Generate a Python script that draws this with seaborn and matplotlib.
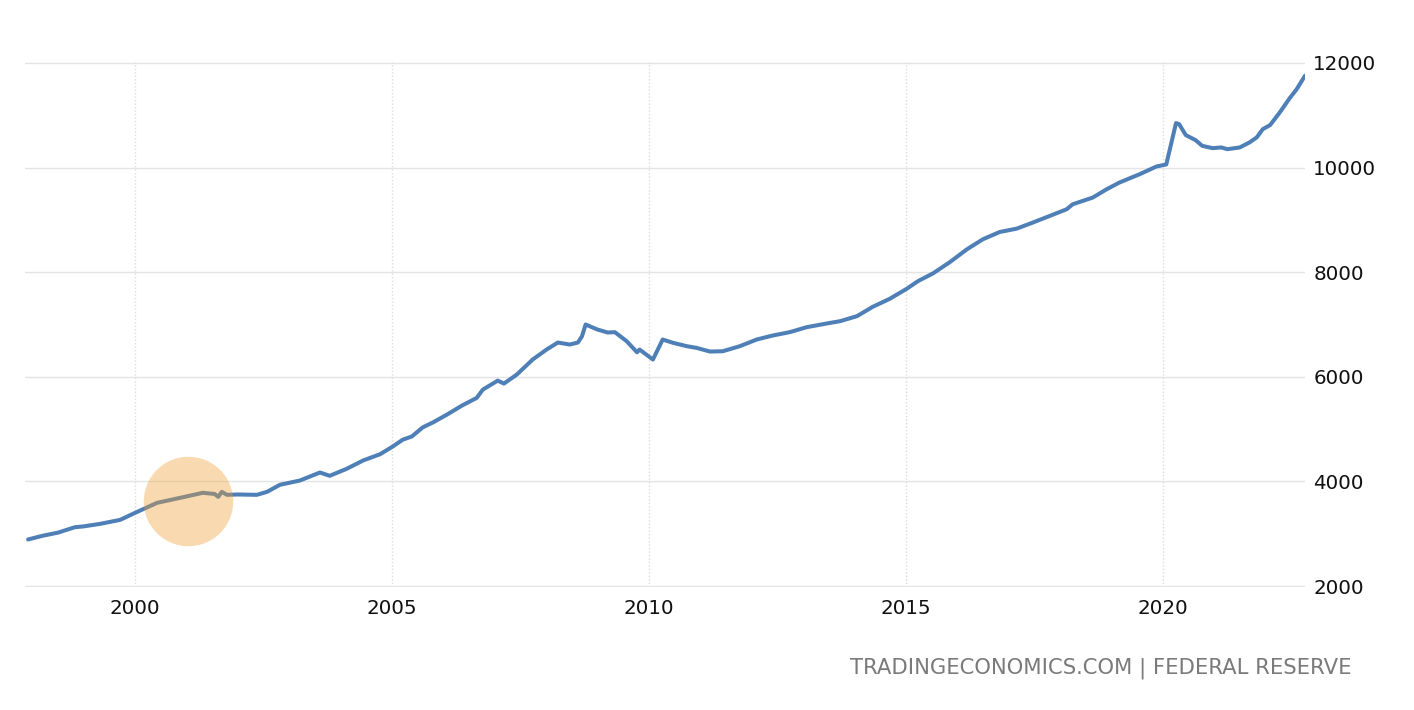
import matplotlib
matplotlib.use("Agg")
import matplotlib.pyplot as plt
import seaborn as sns
import pandas as pd

# ---- data (decimal year, value) ----
years = [1997.92, 1998.2, 1998.5, 1998.83, 1999.0, 1999.32, 1999.71, 2000.0, 2000.43,
         2000.88, 2001.32, 2001.55, 2001.62, 2001.69, 2001.79, 2002.0, 2002.37, 2002.57,
         2002.82, 2003.21, 2003.6, 2003.79, 2004.12, 2004.44, 2004.77, 2005.02, 2005.21,
         2005.39, 2005.6, 2005.8, 2006.07, 2006.36, 2006.65, 2006.77, 2007.06, 2007.18,
         2007.43, 2007.74, 2008.01, 2008.23, 2008.46, 2008.62, 2008.70, 2008.77, 2009.0,
         2009.2, 2009.34, 2009.57, 2009.77, 2009.82, 2010.08, 2010.27, 2010.47, 2010.74,
         2010.93, 2011.19, 2011.44, 2011.77, 2012.1, 2012.41, 2012.74, 2013.07, 2013.46,
         2013.72, 2014.05, 2014.36, 2014.69, 2015.02, 2015.24, 2015.53, 2015.86, 2016.19,
         2016.5, 2016.83, 2017.16, 2017.47, 2017.8, 2018.13, 2018.25, 2018.64, 2018.91,
         2019.16, 2019.55, 2019.88, 2020.07, 2020.26, 2020.32, 2020.45, 2020.64, 2020.77,
         2020.97, 2021.14, 2021.26, 2021.5, 2021.69, 2021.83, 2021.95, 2022.09, 2022.28,
         2022.47, 2022.61, 2022.77]
values = [2890, 2960, 3020, 3124, 3140, 3188, 3264, 3398, 3590,
          3686, 3782, 3760, 3705, 3800, 3743, 3750, 3743, 3800,
          3935, 4017, 4170, 4107, 4241, 4400, 4520, 4669, 4797,
          4860, 5033, 5128, 5276, 5448, 5596, 5755, 5927, 5870,
          6042, 6330, 6521, 6655, 6617, 6655, 6776, 7000, 6904,
          6847, 6853, 6680, 6469, 6521, 6330, 6713, 6650, 6585,
          6553, 6483, 6489, 6585, 6713, 6789, 6853, 6948, 7019,
          7063, 7159, 7339, 7492, 7684, 7830, 7977, 8194, 8437,
          8629, 8769, 8833, 8948, 9075, 9203, 9299, 9427, 9586,
          9715, 9873, 10021, 10060, 10851, 10831, 10621, 10525, 10416,
          10372, 10385, 10352, 10385, 10481, 10577, 10736, 10812, 11056,
          11324, 11502, 11757]

x_ticks = [2000, 2005, 2010, 2015, 2020]
x_tick_labels = ["2000", "2005", "2010", "2015", "2020"]
y_ticks = [2000, 4000, 6000, 8000, 10000, 12000]
y_tick_labels = ["2000", "4000", "6000", "8000", "10000", "12000"]

highlight_year = 2001.03
highlight_value = 3630

footer = "TRADINGECONOMICS.COM | FEDERAL RESERVE"

# ---- styling ----
sns.set_theme(style="white")
plt.rcParams['font.family'] = ['DejaVu Sans']

df = pd.DataFrame({"year": years, "value": values})

fig = plt.figure(figsize=(14.14, 7.10), dpi=100)
ax = fig.add_axes([25 / 1414, 1 - 587 / 710, (1305 - 25) / 1414, (587 - 62) / 710])

sns.lineplot(data=df, x="year", y="value", ax=ax, color="#4e7fb6", linewidth=2.9,
             solid_joinstyle="round", solid_capstyle="round", zorder=3)

# highlight circle
ax.scatter([highlight_year], [highlight_value], s=4150, color="#f0a030", alpha=0.38,
           linewidths=0, zorder=4)

ax.set_xlim(1997.86, 2022.77)
ax.set_ylim(1981, 12019)

ax.set_xticks(x_ticks)
ax.set_xticklabels(x_tick_labels)
ax.set_yticks(y_ticks)
ax.set_yticklabels(y_tick_labels)
ax.yaxis.tick_right()

ax.tick_params(axis="both", length=0, labelsize=14.3, labelcolor="#111111")
ax.tick_params(axis="x", pad=9)
ax.tick_params(axis="y", pad=6)

ax.set_xlabel("")
ax.set_ylabel("")

ax.grid(axis="y", color="#e4e4e4", linewidth=1.0, linestyle="-")
ax.grid(axis="x", color="#dcdcdc", linewidth=1.0, linestyle=(0, (1, 1.5)))
ax.set_axisbelow(True)

for s in ax.spines.values():
    s.set_visible(False)

fig.text(1352 / 1414, 1 - 668 / 710, footer, ha="right", va="center",
         fontsize=15.2, color="#7a7a7a",
         family=["Liberation Sans Narrow", "DejaVu Sans"])

fig.savefig("out.png", dpi=100, facecolor="white")
